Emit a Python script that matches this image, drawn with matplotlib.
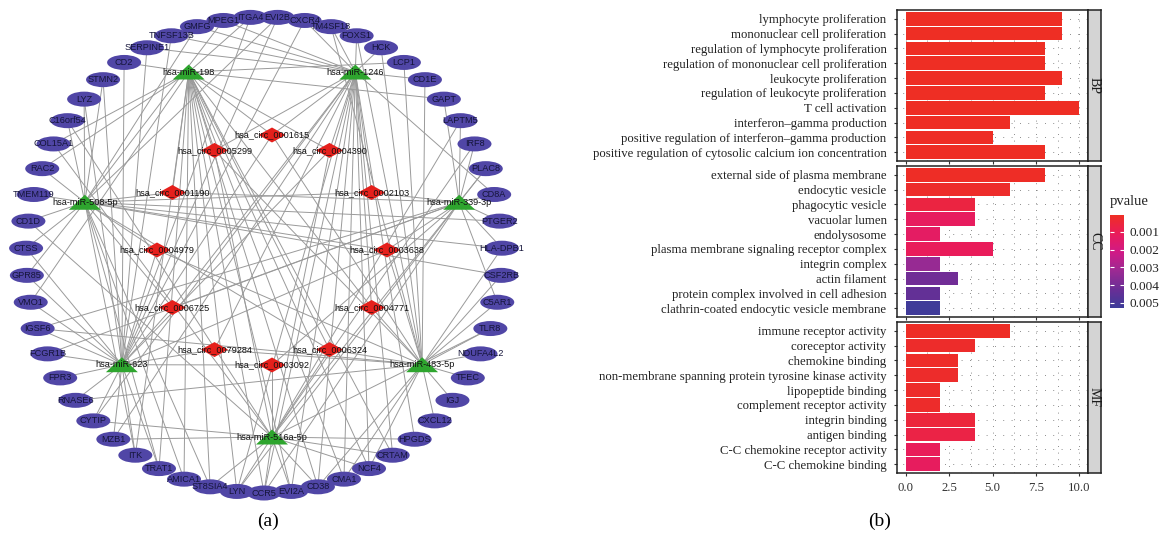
import numpy as np
import matplotlib
matplotlib.use('Agg')
import matplotlib.pyplot as plt
from matplotlib.patches import Ellipse, Polygon
from matplotlib.colors import LinearSegmentedColormap, Normalize
from matplotlib.cm import ScalarMappable

# ---------------- network data (a) ----------------
# outer ring of target genes, clockwise from the top
genes = ['EVI2B', 'CXCR4', 'TM4SF18', 'FOXS1', 'HCK', 'LCP1', 'CD1E', 'GAPT', 'LAPTM5',
         'IRF8', 'PLAC8', 'CD8A', 'PTGER2', 'HLA-DPB1', 'CSF2RB', 'C5AR1', 'TLR8',
         'NDUFA4L2', 'TFEC', 'IGJ', 'CXCL12', 'HPGDS', 'CRTAM', 'NCF4', 'CMA1', 'CD38',
         'EVI2A', 'CCR5', 'LYN', 'ST8SIA4', 'AMICA1', 'TRAT1', 'ITK', 'MZB1', 'CYTIP',
         'RNASE6', 'FPR3', 'FCGR1B', 'IGSF6', 'VMO1', 'GPR85', 'CTSS', 'CD1D', 'TMEM119',
         'RAC2', 'COL15A1', 'C16orf54', 'LYZ', 'STMN2', 'CD2', 'SERPINE1', 'TNFSF13B',
         'GMFG', 'MPEG1', 'ITGA4']

mirnas = ['hsa-miR-198', 'hsa-miR-1246', 'hsa-miR-339-3p', 'hsa-miR-483-5p',
          'hsa-miR-516a-5p', 'hsa-miR-623', 'hsa-miR-508-5p']

circs = ['hsa_circ_0001615', 'hsa_circ_0004390', 'hsa_circ_0002103', 'hsa_circ_0003638',
         'hsa_circ_0004771', 'hsa_circ_0006324', 'hsa_circ_0003092', 'hsa_circ_0079284',
         'hsa_circ_0006725', 'hsa_circ_0004979', 'hsa_circ_0001190', 'hsa_circ_0005299']

mirna_genes = {
    'hsa-miR-198': ['CD2', 'LCP1', 'ITGA4', 'CCR5', 'LYN', 'ST8SIA4', 'AMICA1', 'TRAT1', 'CD38',
                    'CMA1', 'EVI2A', 'NCF4', 'ITK', 'CRTAM', 'GAPT', 'RAC2', 'COL15A1', 'VMO1'],
    'hsa-miR-1246': ['HCK', 'FOXS1', 'CXCR4', 'CD1E', 'TM4SF18', 'CD8A', 'NCF4', 'CMA1', 'CD38',
                     'EVI2A', 'CCR5', 'LYN', 'HPGDS', 'CRTAM', 'MZB1', 'CYTIP', 'TNFSF13B',
                     'SERPINE1', 'MPEG1', 'GMFG'],
    'hsa-miR-508-5p': ['TMEM119', 'CD1D', 'CTSS', 'GPR85', 'C16orf54', 'LYZ', 'STMN2', 'RAC2',
                       'AMICA1', 'ST8SIA4', 'TRAT1', 'ITK', 'HLA-DPB1', 'PTGER2', 'CSF2RB',
                       'MPEG1', 'GMFG', 'EVI2B'],
    'hsa-miR-339-3p': ['LAPTM5', 'IRF8', 'PLAC8', 'CD8A', 'PTGER2', 'GAPT', 'HLA-DPB1', 'C5AR1',
                       'FCGR1B', 'IGSF6', 'LYN', 'CCR5'],
    'hsa-miR-623': ['FPR3', 'FCGR1B', 'RNASE6', 'CYTIP', 'MZB1', 'ITK', 'TRAT1', 'IGSF6', 'VMO1',
                    'GPR85', 'CTSS', 'LYZ', 'STMN2', 'CD2', 'SERPINE1', 'TNFSF13B', 'ITGA4',
                    'EVI2B', 'CXCR4'],
    'hsa-miR-483-5p': ['TFEC', 'IGJ', 'CXCL12', 'NDUFA4L2', 'TLR8', 'C5AR1', 'CSF2RB', 'HLA-DPB1',
                       'CD1E', 'LCP1', 'HCK', 'FOXS1', 'TM4SF18', 'IGSF6', 'RNASE6', 'CD38',
                       'CMA1', 'NCF4'],
    'hsa-miR-516a-5p': ['HPGDS', 'CRTAM', 'NCF4', 'CD38', 'EVI2A', 'CCR5', 'LYN', 'ST8SIA4',
                        'MZB1', 'CYTIP', 'CD1D', 'COL15A1', 'C16orf54', 'PLAC8', 'IRF8',
                        'LAPTM5', 'TLR8'],
}

circ_mirnas = {
    'hsa_circ_0001615': ['hsa-miR-198', 'hsa-miR-1246', 'hsa-miR-623', 'hsa-miR-483-5p'],
    'hsa_circ_0004390': ['hsa-miR-1246', 'hsa-miR-198', 'hsa-miR-623', 'hsa-miR-516a-5p'],
    'hsa_circ_0002103': ['hsa-miR-339-3p', 'hsa-miR-508-5p', 'hsa-miR-1246'],
    'hsa_circ_0003638': ['hsa-miR-339-3p', 'hsa-miR-483-5p', 'hsa-miR-508-5p', 'hsa-miR-623'],
    'hsa_circ_0004771': ['hsa-miR-483-5p', 'hsa-miR-1246', 'hsa-miR-198'],
    'hsa_circ_0006324': ['hsa-miR-483-5p', 'hsa-miR-516a-5p', 'hsa-miR-508-5p', 'hsa-miR-198'],
    'hsa_circ_0003092': ['hsa-miR-516a-5p', 'hsa-miR-623', 'hsa-miR-339-3p'],
    'hsa_circ_0079284': ['hsa-miR-623', 'hsa-miR-483-5p', 'hsa-miR-1246'],
    'hsa_circ_0006725': ['hsa-miR-623', 'hsa-miR-508-5p', 'hsa-miR-1246', 'hsa-miR-339-3p'],
    'hsa_circ_0004979': ['hsa-miR-508-5p', 'hsa-miR-623', 'hsa-miR-483-5p'],
    'hsa_circ_0001190': ['hsa-miR-508-5p', 'hsa-miR-339-3p', 'hsa-miR-198'],
    'hsa_circ_0005299': ['hsa-miR-198', 'hsa-miR-516a-5p', 'hsa-miR-1246', 'hsa-miR-483-5p'],
}

# ---------------- GO enrichment data (b) ----------------
bp_terms = ['lymphocyte proliferation', 'mononuclear cell proliferation',
            'regulation of lymphocyte proliferation', 'regulation of mononuclear cell proliferation',
            'leukocyte proliferation', 'regulation of leukocyte proliferation', 'T cell activation',
            'interferon\u2013gamma production', 'positive regulation of interferon\u2013gamma production',
            'positive regulation of cytosolic calcium ion concentration']
bp_counts = [9, 9, 8, 8, 9, 8, 10, 6, 5, 8]
bp_pvals = [1e-5, 1e-5, 2e-5, 2e-5, 1e-5, 3e-5, 1e-5, 5e-5, 8e-5, 6e-5]

cc_terms = ['external side of plasma membrane', 'endocytic vesicle', 'phagocytic vesicle',
            'vacuolar lumen', 'endolysosome', 'plasma membrane signaling receptor complex',
            'integrin complex', 'actin filament', 'protein complex involved in cell adhesion',
            'clathrin-coated endocytic vesicle membrane']
cc_counts = [8, 6, 4, 4, 2, 5, 2, 3, 2, 2]
cc_pvals = [0.0001, 0.0002, 0.0006, 0.0012, 0.0013, 0.0011, 0.0033, 0.0041, 0.0044, 0.0052]

mf_terms = ['immune receptor activity', 'coreceptor activity', 'chemokine binding',
            'non-membrane spanning protein tyrosine kinase activity', 'lipopeptide binding',
            'complement receptor activity', 'integrin binding', 'antigen binding',
            'C-C chemokine receptor activity', 'C-C chemokine binding']
mf_counts = [6, 4, 3, 3, 2, 2, 4, 4, 2, 2]
mf_pvals = [0.0001, 0.0002, 0.00015, 0.0002, 0.0002, 0.0002, 0.0005, 0.0007, 0.0011, 0.0012]

W, H = 1167, 539
fig = plt.figure(figsize=(W / 100, H / 100), dpi=100)

# ================= (a) network =================
ax = fig.add_axes([0, 0, 583.5 / W, 1])
ax.set_xlim(0, 583.5)
ax.set_ylim(H, 0)
ax.axis('off')

def ring(n, cx, cy, r, start):
    ang = np.deg2rad(start + np.arange(n) * 360.0 / n)
    return cx + r * np.sin(ang), cy - r * np.cos(ang)

gx, gy = ring(len(genes), 264, 255, 238, 180.0 / len(genes))
mx, my = ring(len(mirnas), 272, 245, 192, -180.0 / len(mirnas))
cx_, cy_ = ring(len(circs), 272, 250, 115, 0)
pos = {}
pos.update({g: (x, y) for g, x, y in zip(genes, gx, gy)})
pos.update({m: (x, y) for m, x, y in zip(mirnas, mx, my)})
pos.update({c: (x, y) for c, x, y in zip(circs, cx_, cy_)})

edge_kw = dict(color='#9a9a9a', lw=0.7, zorder=1)
for m, targets in mirna_genes.items():
    for g in targets:
        ax.plot([pos[m][0], pos[g][0]], [pos[m][1], pos[g][1]], **edge_kw)
for c, ms in circ_mirnas.items():
    for m in ms:
        ax.plot([pos[c][0], pos[m][0]], [pos[c][1], pos[m][1]], **edge_kw)

net_font = dict(fontsize=6.6, family='Liberation Sans', ha='center', va='center', zorder=4)
for g in genes:
    x, y = pos[g]
    ax.add_patch(Ellipse((x, y), 34, 15, facecolor='#5046a6', edgecolor='none', zorder=2))
    ax.text(x, y, g, color='#15153a', **net_font)
for m in mirnas:
    x, y = pos[m]
    ax.add_patch(Polygon([(x - 16, y + 7.5), (x + 16, y + 7.5), (x, y - 7.5)],
                         closed=True, facecolor='#2ea52e', edgecolor='none', zorder=2))
    ax.text(x, y, m, color='#111111', **net_font)
for c in circs:
    x, y = pos[c]
    ax.add_patch(Polygon([(x - 13.5, y), (x, y - 7.5), (x + 13.5, y), (x, y + 7.5)],
                         closed=True, facecolor='#e5201c', edgecolor='none', zorder=2))
    ax.text(x, y, c, color='#111111', **net_font)

fig.text(268 / W, 1 - 521 / H, '(a)', fontsize=14, family='Liberation Serif',
         ha='center', va='center')
fig.text(880 / W, 1 - 521 / H, '(b)', fontsize=14, family='Liberation Serif',
         ha='center', va='center')

# ================= (b) GO bar chart =================
cmap = LinearSegmentedColormap.from_list(
    'pv', ['#ee2e24', '#e91c5a', '#d01a86', '#9c2a93', '#6a2e96', '#3c3c99'])
norm = Normalize(vmin=4e-5, vmax=0.0053)

panels = [('BP', bp_terms, bp_counts, bp_pvals, 10),
          ('CC', cc_terms, cc_counts, cc_pvals, 166),
          ('MF', mf_terms, mf_counts, mf_pvals, 322)]
left, right, strip_w, ph = 897, 1088, 13, 151
serif = 'Liberation Serif'
for name, terms, counts, pvals, top in panels:
    pax = fig.add_axes([left / W, 1 - (top + ph) / H, (right - left) / W, ph / H])
    y = np.arange(len(terms))
    pax.set_axisbelow(True)
    for xv in np.arange(0, 10.01, 1.25):
        pax.axvline(xv, color='#666666', lw=0.6, ls=(0, (1, 7)), zorder=0)
    for yv in y:
        pax.axhline(yv, color='#666666', lw=0.6, ls=(3, (1, 9)), zorder=0)
    pax.barh(y, counts, height=0.92, color=cmap(norm(pvals)), zorder=2)
    pax.set_xlim(-0.5, 10.5)
    pax.set_ylim(len(terms) - 0.4, -0.6)
    pax.set_yticks(y)
    pax.set_yticklabels(terms, family=serif, fontsize=9.2, color='#222222')
    pax.set_xticks([0, 2.5, 5, 7.5, 10])
    pax.tick_params(axis='y', length=2.5, pad=5, width=0.8, color='#333333')
    pax.tick_params(axis='x', length=2.5, pad=4, width=0.8, color='#333333')
    for s in pax.spines.values():
        s.set_linewidth(1.1)
        s.set_color('#222222')
    if name == 'MF':
        pax.set_xticklabels(['0.0', '2.5', '5.0', '7.5', '10.0'], family=serif,
                            fontsize=9.2, color='#333333')
    else:
        pax.set_xticklabels([])
    sax = fig.add_axes([right / W, 1 - (top + ph) / H, strip_w / W, ph / H])
    sax.set_facecolor('#d4d4d4')
    sax.set_xticks([])
    sax.set_yticks([])
    for s in sax.spines.values():
        s.set_linewidth(1.1)
        s.set_color('#222222')
    sax.text(0.5, 0.5, name, rotation=270, transform=sax.transAxes, ha='center',
             va='center', family=serif, fontsize=10, color='#1a1a1a')

# colour legend
cax = fig.add_axes([1110 / W, 1 - 308 / H, 14 / W, 93 / H])
cb = fig.colorbar(ScalarMappable(norm=norm, cmap=cmap), cax=cax)
cb.outline.set_visible(False)
cax.invert_yaxis()
cb.set_ticks([0.001, 0.002, 0.003, 0.004, 0.005])
cb.set_ticklabels(['0.001', '0.002', '0.003', '0.004', '0.005'])
cax.tick_params(axis='y', direction='in', color='white', length=3, width=0.8,
                left=True, right=True, labelsize=9.5, pad=4, labelcolor='#222222')
for lbl in cax.get_yticklabels():
    lbl.set_family(serif)
fig.text(1110 / W, 1 - 201 / H, 'pvalue', family=serif, fontsize=10.5, ha='left',
         va='center', color='#222222')

fig.savefig('out.png', dpi=100)
